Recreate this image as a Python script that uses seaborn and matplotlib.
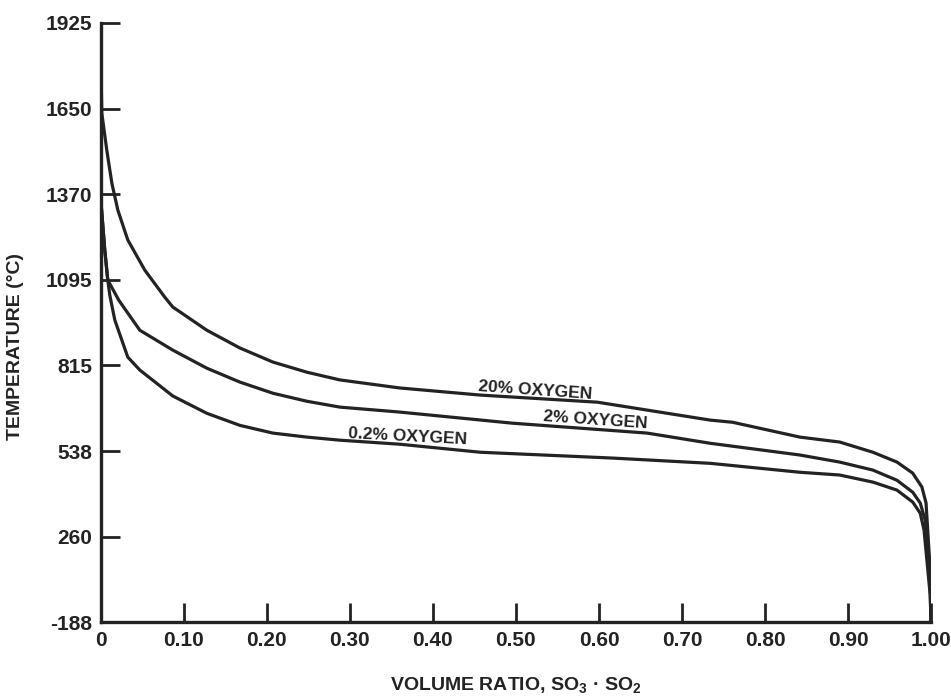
import numpy as np
import pandas as pd
import matplotlib
matplotlib.use("Agg")
import matplotlib.pyplot as plt
import seaborn as sns

# tick labels on the temperature axis (evenly spaced on the page)
temp_ticks = [-188, 260, 538, 815, 1095, 1370, 1650, 1925]
ratio_ticks = [0, 0.10, 0.20, 0.30, 0.40, 0.50, 0.60, 0.70, 0.80, 0.90, 1.00]
ratio_labels = ["0", "0.10", "0.20", "0.30", "0.40", "0.50", "0.60", "0.70", "0.80", "0.90", "1.00"]

# curves: volume ratio vs temperature (°C)
ratio_20 = [0.0, 0.0, 0.0012, 0.0072, 0.0133, 0.0205, 0.0325, 0.053, 0.0771, 0.0867,
            0.1277, 0.1675, 0.2072, 0.2482, 0.288, 0.360, 0.457, 0.598, 0.734, 0.761,
            0.842, 0.890, 0.930, 0.959, 0.978, 0.989, 0.994, 0.996, 0.999, 1.0, 1.0]
temp_20 = [1925, 1806, 1635, 1514, 1406, 1319, 1223, 1126, 1038, 1006,
           930, 872, 826, 793, 768, 742, 719, 696, 638, 631,
           583, 567, 534, 502, 466, 421, 369, 281, 84, -151, -188]

ratio_2 = [0.0, 0.0, 0.0, 0.0048, 0.0084, 0.0217, 0.047, 0.0867, 0.1277, 0.1675,
           0.2072, 0.2482, 0.288, 0.360, 0.496, 0.658, 0.734, 0.842, 0.890, 0.930,
           0.959, 0.978, 0.987, 0.993, 0.996, 0.999, 1.0]
temp_2 = [1925, 1650, 1351, 1190, 1094, 1028, 930, 865, 806, 761,
          725, 699, 680, 664, 628, 596, 563, 525, 502, 476,
          443, 404, 369, 313, 173, -20, -188]

ratio_02 = [0.0, 0.0, 0.0, 0.0048, 0.0084, 0.0108, 0.0169, 0.0325, 0.047, 0.0867,
            0.1277, 0.1675, 0.2072, 0.2482, 0.288, 0.360, 0.457, 0.617, 0.734, 0.842,
            0.890, 0.930, 0.959, 0.978, 0.987, 0.9916, 0.995, 0.999, 1.0]
temp_02 = [1925, 1650, 1351, 1190, 1094, 1045, 963, 842, 800, 716,
           660, 621, 596, 583, 573, 560, 534, 515, 498, 469,
           460, 437, 411, 372, 336, 281, 137, -46, -188]

curve_names = ["20% OXYGEN", "2% OXYGEN", "0.2% OXYGEN"]
label_ratio = [0.523, 0.596, 0.370]
label_temp = [735, 638, 583]
label_rot = [-4, -4, -3]

df = pd.concat([
    pd.DataFrame({"ratio": ratio_20, "temp": temp_20, "curve": curve_names[0]}),
    pd.DataFrame({"ratio": ratio_2, "temp": temp_2, "curve": curve_names[1]}),
    pd.DataFrame({"ratio": ratio_02, "temp": temp_02, "curve": curve_names[2]}),
], ignore_index=True)

sns.set_theme(style="white")
plt.rcParams["font.family"] = ["Liberation Sans", "DejaVu Sans"]
plt.rcParams["font.weight"] = "bold"
plt.rcParams["mathtext.fontset"] = "custom"
plt.rcParams["mathtext.rm"] = "Liberation Sans:bold"
plt.rcParams["mathtext.default"] = "rm"

ink = "#232323"

# the temperature axis is piecewise: each tick interval takes the same height
steps = np.arange(len(temp_ticks), dtype=float)
def fwd(t):
    return np.interp(t, temp_ticks, steps)
def inv(s):
    return np.interp(s, steps, temp_ticks)

fig = plt.figure(figsize=(9.51, 6.96), dpi=100)
ax = fig.add_axes([0.106, 0.106, 0.873, 0.861])
ax.set_yscale("function", functions=(fwd, inv))

sns.lineplot(data=df, x="ratio", y="temp", hue="curve", units="curve",
             estimator=None, sort=False, palette=[ink] * 3, linewidth=2.3,
             legend=False, ax=ax)

for name, xr, yt, rot in zip(curve_names, label_ratio, label_temp, label_rot):
    ax.text(xr, yt, name, fontsize=12.5, fontweight="bold", color=ink,
            rotation=rot, ha="center", va="center", rotation_mode="anchor")

ax.set_xlim(0, 1.0)
ax.set_ylim(-188, 1925)
ax.set_yticks(temp_ticks)
ax.set_yticklabels([str(t) for t in temp_ticks])
ax.set_xticks(ratio_ticks)
ax.set_xticklabels(ratio_labels)
ax.minorticks_off()

for side in ["top", "right"]:
    ax.spines[side].set_visible(False)
for side in ["left", "bottom"]:
    ax.spines[side].set_color(ink)
    ax.spines[side].set_linewidth(2.4)

ax.tick_params(axis="both", direction="in", length=14, width=2, color=ink,
               labelsize=15, labelcolor=ink, bottom=True, left=True)
ax.tick_params(axis="y", pad=6)
ax.tick_params(axis="x", pad=6)

ax.set_xlabel("VOLUME RATIO, SO$_3$ · SO$_2$", fontsize=14, fontweight="bold",
              color=ink, labelpad=18)
ax.set_ylabel("TEMPERATURE (°C)", fontsize=14, fontweight="bold", color=ink,
              labelpad=14)
ax.yaxis.set_label_coords(-0.092, 0.46)

fig.savefig("out.png", dpi=100)
